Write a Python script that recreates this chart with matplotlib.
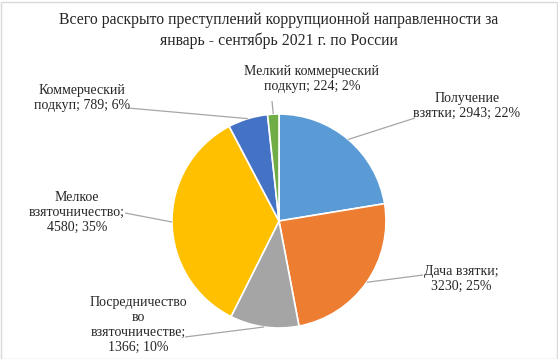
import numpy as np
import matplotlib
matplotlib.use("Agg")
import matplotlib.pyplot as plt
from matplotlib.patches import Rectangle

# ---- data ----
categories = ["Получение\nвзятки", "Дача взятки;\n", "Посредничество\nво\nвзяточничестве;\n",
              "Мелкое\nвзяточничество;\n", "Коммерческий\nподкуп", "Мелкий коммерческий\nподкуп"]
values = [2943, 3230, 1366, 4580, 789, 224]
colors = ["#5B9BD5", "#ED7D31", "#A5A5A5", "#FFC000", "#4472C4", "#70AD47"]
title = "Всего раскрыто преступлений коррупционной направленности за\nянварь - сентябрь 2021 г. по России"

# label text centres and leader-line start points (pixels in 558x359 figure)
label_pos = [(467, 106), (461, 279), (138, 325), (77, 212), (82, 98), (312, 79)]
line_start = [(415, 118), (423, 275), (185, 337), (125, 213), (128, 108), (272, 101)]

W, H = 558, 359
cx, cy, R = 279, 221, 107

fig = plt.figure(figsize=(W / 100, H / 100), dpi=100)
ax = fig.add_axes([0, 0, 1, 1])

def px2d(p):
    return ((p[0] - cx) / R, (cy - p[1]) / R)

wedges, _ = ax.pie(values, colors=colors, startangle=90, counterclock=False,
                   radius=1, center=(0, 0), frame=True,
                   wedgeprops=dict(edgecolor="white", linewidth=1.2))
ax.set_xlim(-cx / R, (W - cx) / R)
ax.set_ylim((cy - H) / R, cy / R)
ax.set_aspect("equal")
ax.axis("off")

total = sum(values)
font = "Liberation Serif"
for i, (w, v) in enumerate(zip(wedges, values)):
    pct = round(v / total * 100)
    cat = categories[i]
    if cat.endswith("\n"):
        txt = f"{cat}{v}; {pct}%"
    else:
        txt = f"{cat}; {v}; {pct}%"
    tx, ty = px2d(label_pos[i])
    ax.text(tx, ty, txt, ha="center", va="center", multialignment="center",
            fontsize=10, family=font, color="#262626", linespacing=1.2)
    mid = np.deg2rad((w.theta1 + w.theta2) / 2)
    ex, ey = np.cos(mid), np.sin(mid)
    sx, sy = px2d(line_start[i])
    ax.plot([sx, ex], [sy, ey], color="#A6A6A6", lw=0.9, solid_capstyle="butt")

fig.text(0.5, 1 - 30.5 / H, title, ha="center", va="center", fontsize=11.3,
         family=font, color="#262626", linespacing=1.3)

fig.patches.append(Rectangle((0.5 / W, 0.5 / H), 1 - 2 / W, 1 - 2 / H,
                             transform=fig.transFigure, fill=False,
                             edgecolor="#D9D9D9", lw=1))

fig.savefig("out.png", dpi=100)
